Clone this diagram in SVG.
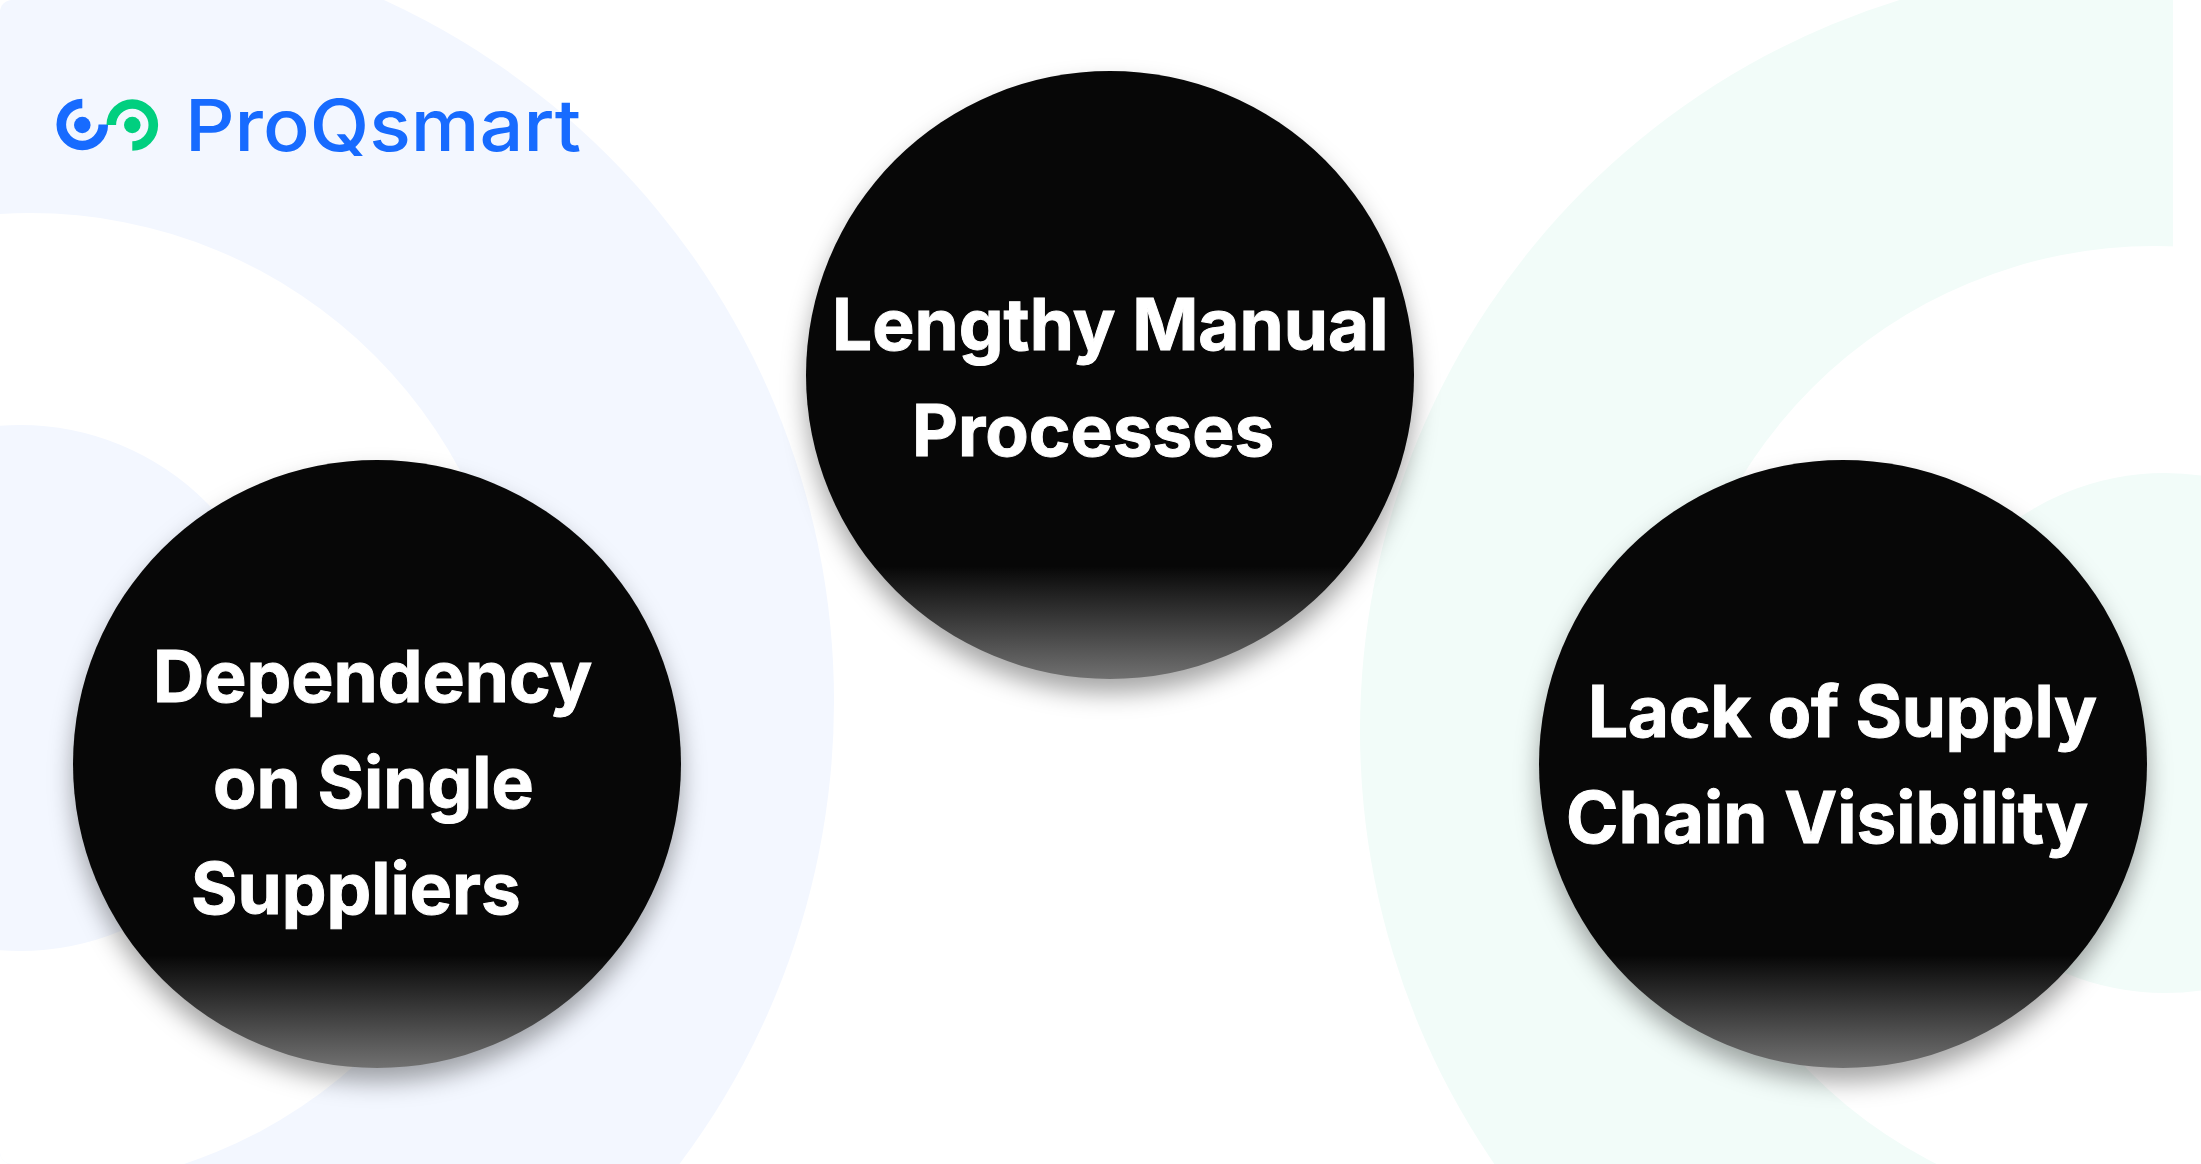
<svg xmlns="http://www.w3.org/2000/svg" width="2201" height="1164" viewBox="0 0 2201 1164">
<style>
.bl{fill:#f3f7ff}.gr{fill:#f2fcf9}
.t{font-family:Inter,"Liberation Sans",sans-serif;font-weight:700;font-size:71px;fill:#fff;stroke:#fff;stroke-width:1}
.logo{font-family:Inter,"Liberation Sans",sans-serif;font-weight:500;font-size:72px;fill:#176bff}
.disc{fill:url(#g);filter:url(#s)}
</style>
<defs>
<linearGradient id="g" x1="0" y1="0" x2="0" y2="1"><stop offset="0" stop-color="#070707"/><stop offset=".815" stop-color="#070707"/><stop offset="1" stop-color="#717171"/></linearGradient>
<filter id="s" x="-20%" y="-20%" width="140%" height="140%" color-interpolation-filters="sRGB"><feDropShadow dx="0" dy="14" stdDeviation="12" flood-color="#000" flood-opacity=".35"/></filter>
<clipPath id="cl"><rect x="0" y="0" width="900" height="1164" rx="12"/></clipPath>
<clipPath id="cr"><rect x="1300" y="0" width="873" height="1164"/></clipPath>
</defs>
<rect width="2201" height="1164" fill="#fff"/>
<g id="bg-left" clip-path="url(#cl)">
<circle class="bl" cx="63" cy="701" r="771"/>
<circle cx="30" cy="701" r="488" fill="#fff"/>
<circle class="bl" cx="20" cy="688" r="263"/>
</g>
<g id="bg-right">
<g clip-path="url(#cr)"><circle class="gr" cx="2125" cy="731" r="765"/></g>
<circle cx="2155" cy="731" r="485" fill="#fff"/>
<circle class="gr" cx="2165" cy="733" r="260"/>
</g>
<g id="logo">
<path d="M82.3 103.5A21 21 0 1 0 103.3 124.5" fill="none" stroke="#176bff" stroke-width="9.6"/>
<circle cx="82.3" cy="125" r="8.3" fill="#176bff"/>
<path d="M111.3 125A21 21 0 1 1 132.3 146" fill="none" stroke="#00cf7f" stroke-width="9.6"/>
<circle cx="132.3" cy="125" r="8.3" fill="#00cf7f"/>
<text class="logo" x="185" y="150.5" textLength="396" lengthAdjust="spacingAndGlyphs">ProQsmart</text>
</g>
<g id="node-dependency">
<circle class="disc" cx="377" cy="764" r="304"/>
<text class="t" x="153" y="702">Dependency</text>
<text class="t" x="213" y="808">on Single</text>
<text class="t" x="191" y="914">Suppliers</text>
</g>
<g id="node-lengthy">
<circle class="disc" cx="1110" cy="375" r="304"/>
<text class="t" x="832" y="350">Lengthy Manual</text>
<text class="t" x="912" y="456">Processes</text>
</g>
<g id="node-visibility">
<circle class="disc" cx="1843" cy="764" r="304"/>
<text class="t" x="1588" y="737" textLength="509">Lack of Supply</text>
<text class="t" x="1566" y="843">Chain Visibility</text>
</g>
<g id="connectors"/>
</svg>
